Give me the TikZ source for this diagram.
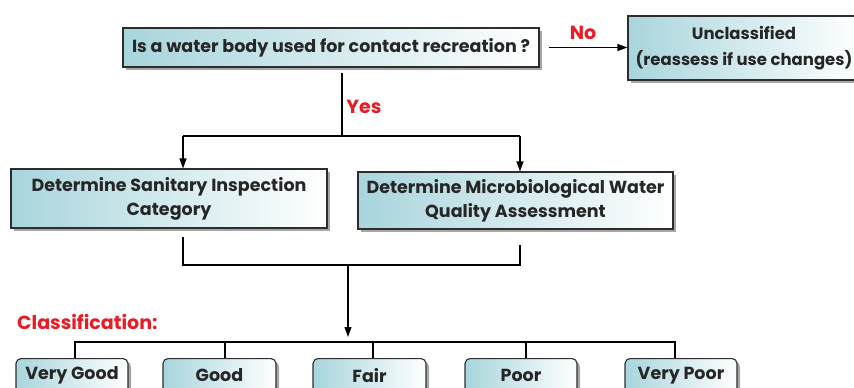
\documentclass[tikz,border=0pt]{standalone}
\usepackage{fontspec}
\setmainfont{Poppins}
\usetikzlibrary{arrows.meta,shadows,calc}
\definecolor{boxteal}{RGB}{168,213,220}
\definecolor{linegray}{RGB}{45,45,45}
\definecolor{lblred}{RGB}{232,28,36}
\tikzset{
  flowbox/.style={draw=linegray, line width=1.1pt, left color=boxteal, right color=white,
    drop shadow={shadow xshift=3pt, shadow yshift=-3pt, fill=black!35, opacity=1},
    align=center, inner sep=0pt, text=black!85,
    font=\bfseries\fontsize{17.5}{24}\selectfont},
  classbox/.style={flowbox, rounded corners=5pt, minimum height=34pt, anchor=north},
  conn/.style={line width=1.1pt, draw=black},
  arr/.style={conn, -{Triangle[length=10pt, width=7pt]}},
  redlbl/.style={text=lblred, font=\bfseries\fontsize{19}{22}\selectfont, inner sep=0pt}
}
\begin{document}
\begin{tikzpicture}[x=1pt, y=-1pt]
  \useasboundingbox (0,0) rectangle (854,388);
  \clip (0,0) rectangle (854,388);

  % question and the two outcomes
  \node[flowbox, minimum width=416pt, minimum height=39pt] (q) at (331,47.5)
    {Is a water body used for contact recreation ?};
  \node[flowbox, minimum width=232pt, minimum height=64pt,
        font=\bfseries\fontsize{16.5}{26}\selectfont] (unc) at (744,48)
    {Unclassified\\(reassess if use changes)};
  \draw[arr] (q.east) ++(9pt,0) coordinate (noStart) -- (unc.west |- noStart);
  \node[redlbl] (no) at (583,33) {No};

  % assessment boxes
  \node[flowbox, minimum width=316pt, minimum height=59pt] (san) at (169,198.5)
    {Determine Sanitary Inspection\\Category};
  \node[flowbox, minimum width=315pt, minimum height=57pt] (mic) at (515.5,200.5)
    {Determine Microbiological Water\\Quality Assessment};

  \coordinate (ysTop) at (342,73);
  \coordinate (ysJoin) at (342,136);
  \coordinate (ysL) at (183,136);
  \coordinate (ysR) at (520,136);
  \draw[conn] (ysTop) -- (ysJoin);
  \draw[conn] (ysL) -- (ysR);
  \draw[arr] (ysL) -- (ysL |- san.north);
  \draw[arr] (ysR) -- (ysR |- mic.north);
  \node[redlbl] (yes) at (364,107) {Yes};

  % merge into the classification
  \coordinate (mL) at (183,237);
  \coordinate (mR) at (520,245);
  \coordinate (mJ) at (348,265);
  \coordinate (mDown) at (348,337);
  \draw[conn] (mL) |- (mJ -| mR) -- (mR);
  \draw[arr] (mJ) -- (mDown);

  \node[redlbl, anchor=west] (cls) at (17,322) {Classification:};

  % classification classes
  \node[classbox, minimum width=112pt] (vg) at (72,358) {Very Good};
  \node[classbox, minimum width=113pt] (gd) at (219.5,358) {Good};
  \node[classbox, minimum width=113pt] (fr) at (369.5,358) {Fair};
  \node[classbox, minimum width=112pt] (pr) at (521,358) {Poor};
  \node[classbox, minimum width=112pt] (vp) at (681,358) {Very Poor};

  \coordinate (b1) at (75,342);
  \coordinate (b2) at (225,342);
  \coordinate (b3) at (373,342);
  \coordinate (b4) at (526,342);
  \coordinate (b5) at (675,342);
  \draw[conn] (b1 |- vg.north) -- (b1) -- (b5) -- (b5 |- vp.north);
  \draw[conn] (b2) -- (b2 |- gd.north);
  \draw[conn] (b3) -- (b3 |- fr.north);
  \draw[conn] (b4) -- (b4 |- pr.north);
\end{tikzpicture}
\end{document}
